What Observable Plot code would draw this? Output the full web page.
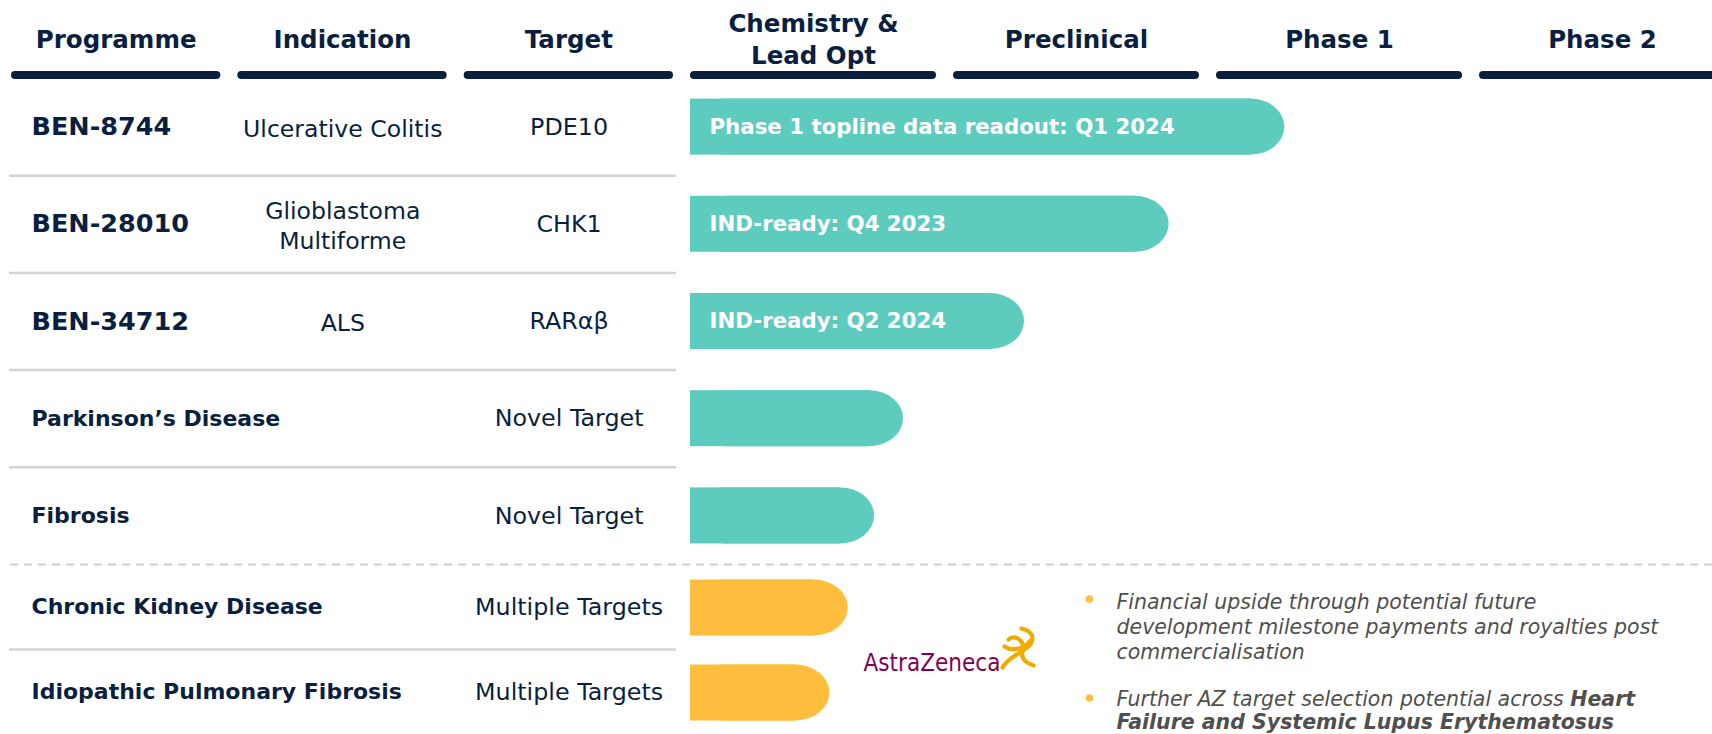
<!DOCTYPE html>
<html>
<head>
<meta charset="utf-8">
<script src="https://cdn.jsdelivr.net/npm/d3@7"></script>
<script src="https://cdn.jsdelivr.net/npm/@observablehq/plot@0.6"></script>
<style>
  html, body { margin: 0; padding: 0; background: #fff; overflow: hidden; }
  #chart svg { display: block; }
</style>
</head>
<body>
<div id="chart"></div>
<script>
// ---------------- data ----------------
const columns = ["Programme", "Indication", "Target", "Chemistry &\nLead Opt", "Preclinical", "Phase 1", "Phase 2"];
const programmes = ["BEN-8744", "BEN-28010", "BEN-34712", "Parkinson\u2019s Disease", "Fibrosis", "Chronic Kidney Disease", "Idiopathic Pulmonary Fibrosis"];
const indications = ["Ulcerative Colitis", "Glioblastoma\nMultiforme", "ALS", "", "", "", ""];
const targets = ["PDE10", "CHK1", "RAR\u03b1\u03b2", "Novel Target", "Novel Target", "Multiple Targets", "Multiple Targets"];
// progress measured in development stages from the start of Chemistry & Lead Opt
const progress = [2.26, 1.82, 1.27, 0.81, 0.70, 0.60, 0.53];
const milestones = ["Phase 1 topline data readout: Q1 2024", "IND-ready: Q4 2023", "IND-ready: Q2 2024", "", "", "", ""];
const owners = ["Benevolent", "Benevolent", "Benevolent", "Benevolent", "Benevolent", "AstraZeneca", "AstraZeneca"];
const ownerNames = ["Benevolent", "AstraZeneca"];
const partner = "AstraZeneca";
const notes = [
  "Financial upside through potential future\ndevelopment milestone payments and royalties post\ncommercialisation",
  "Further AZ target selection potential across Heart\nFailure and Systemic Lupus Erythematosus"
];
const noteHighlights = ["", "Heart Failure and Systemic Lupus Erythematosus"];

// ---------------- styles / layout ----------------
const NAVY = "#0a1f40";
const TEAL = "#5ecbbf";
const GOLD = "#febd3c";
const AZ_PLUM = "#830051";
const AZ_GOLD = "#f0ab00";
const FONT = "DejaVu Sans, Verdana, sans-serif";
const NOTE_POS = [{dx: 1116, dy: 590, lh: 1.24}, {dx: 1116, dy: 689, lh: 1.14}];
const BULLET_POS = [{dx: 1089, dy: 598.5}, {dx: 1089, dy: 697.5}];

const rows = programmes.map((p, i) => ({
  programme: p, indication: indications[i], target: targets[i],
  progress: progress[i], milestone: milestones[i], owner: owners[i], row: i
}));
const sameGroupNext = d => d.row < rows.length - 1 && rows[d.row + 1].owner === d.owner;
const groupBreak = d => d.row < rows.length - 1 && rows[d.row + 1].owner !== d.owner;

// AstraZeneca symbol (decorative)
const azSymbol = {
  draw(ctx) {
    ctx.moveTo(4, -20); ctx.bezierCurveTo(18, -17, 18, -6, 7, 1);
    ctx.bezierCurveTo(0, 6, -11, 11, -15, 19);
    ctx.moveTo(-9, -9); ctx.bezierCurveTo(-3, -15, 8, -8, 5, 3);
    ctx.bezierCurveTo(3, 12, 11, 15, 16, 17);
    ctx.moveTo(-13, -2); ctx.bezierCurveTo(-6, 3, 6, 1, 13, -8);
  }
};

const marks = [];

// header labels & bars
marks.push(Plot.text(columns, {
  x: (d, i) => i - 3 + 0.5, y: () => -0.5, dx: -8.5, dy: -1.5, text: d => d,
  fill: NAVY, fontWeight: 700, fontSize: 24.5, lineHeight: 1.3, textAnchor: "middle"
}));
marks.push(Plot.ruleY(columns, {
  x1: (d, i) => i - 3, x2: (d, i) => i - 2, y: () => 0, dy: -3.5,
  insetLeft: 4, insetRight: 21, stroke: NAVY, strokeWidth: 8, strokeLinecap: "round"
}));

// table separators
marks.push(Plot.ruleY(rows, {
  filter: sameGroupNext, y: d => d.row + 1, x1: () => -3, x2: () => 0,
  insetLeft: -2, insetRight: 14, stroke: "#d3d3d3", strokeWidth: 2.5
}));
marks.push(Plot.ruleY(rows, {
  filter: groupBreak, y: d => d.row + 1, insetLeft: 10,
  stroke: "#cdcdcd", strokeWidth: 2, strokeDasharray: "8,6"
}));

// table text
marks.push(Plot.text(rows, {
  filter: d => d.indication, x: () => -3, y: d => d.row + 0.5, dx: 20, text: "programme",
  textAnchor: "start", fill: NAVY, fontWeight: 700, fontSize: 25.5
}));
marks.push(Plot.text(rows, {
  filter: d => !d.indication, x: () => -3, y: d => d.row + 0.5, dx: 20, text: "programme",
  textAnchor: "start", fill: NAVY, fontWeight: 700, fontSize: 22
}));
marks.push(Plot.text(rows, {
  filter: d => d.indication, x: () => -1.5, y: d => d.row + 0.5, dx: -8.25, text: "indication",
  textAnchor: "middle", fill: NAVY, fontSize: 23.6, lineHeight: 1.3
}));
marks.push(Plot.text(rows, {
  x: () => -0.5, y: d => d.row + 0.5, dx: -8.25, text: "target",
  textAnchor: "middle", fill: NAVY, fontSize: 23.8
}));

// progress bars (rounded right end only)
for (const [own, insetTop, insetBottom] of [["Benevolent", 20.6, 20.6], ["AstraZeneca", 15.5, 13.5]]) {
  marks.push(Plot.rect(rows, {
    filter: d => d.owner === own, x1: () => 0, x2: "progress", y1: "row", y2: d => d.row + 1,
    fill: "owner", insetTop, insetBottom, rx: 34, ry: 28
  }));
  marks.push(Plot.rect(rows, {
    filter: d => d.owner === own, x1: () => 0, x2: "progress", y1: "row", y2: d => d.row + 1,
    fill: "owner", insetTop, insetBottom, insetRight: 34
  }));
}
marks.push(Plot.text(rows, {
  filter: d => d.milestone, x: () => 0, y: d => d.row + 0.5, dx: 19, text: "milestone",
  textAnchor: "start", fill: "white", fontWeight: 700, fontSize: 21.3
}));

// partner logo
marks.push(Plot.text([partner], {
  frameAnchor: "top-left", dx: 863, dy: 653, text: d => d,
  textAnchor: "start", fill: AZ_PLUM, fontSize: 24
}));
marks.push(Plot.dot([partner], {
  frameAnchor: "top-left", dx: 1017, dy: 648, symbol: azSymbol, r: 5,
  fill: "none", stroke: AZ_GOLD, strokeWidth: 4.2, strokeLinecap: "round"
}));

// notes
notes.forEach((n, k) => {
  marks.push(Plot.dot([n], {
    frameAnchor: "top-left", dx: BULLET_POS[k].dx, dy: BULLET_POS[k].dy,
    r: 3.8, fill: GOLD, stroke: "none"
  }));
  marks.push(Plot.text([n], {
    frameAnchor: "top-left", dx: NOTE_POS[k].dx, dy: NOTE_POS[k].dy, text: d => d,
    textAnchor: "start", lineAnchor: "top", fill: "#4f4f4f", fontStyle: "italic",
    fontSize: 20.5, lineHeight: NOTE_POS[k].lh
  }));
});

const svg = Plot.plot({
  width: 1712,
  height: 734,
  marginTop: 0, marginRight: 0, marginBottom: 0, marginLeft: 0,
  style: {fontFamily: FONT, background: "white", color: NAVY},
  x: {type: "linear", domain: [-3, 0, 4], range: [11, 690, 1742], axis: null},
  y: {type: "linear", domain: [-1, 0, 5, 7], range: [0, 78, 564, 734], axis: null},
  color: {domain: ownerNames, range: [TEAL, GOLD]},
  marks
});
document.getElementById("chart").appendChild(svg);

// condense the partner wordmark to the logo's width
const logo = Array.from(svg.querySelectorAll("text")).find(t => t.textContent === partner);
if (logo) { logo.setAttribute("textLength", "137"); logo.setAttribute("lengthAdjust", "spacingAndGlyphs"); }

// bold-italic emphasis inside the second note
function emphasize(note, phrase) {
  if (!phrase) return;
  const first = note.split("\n")[0];
  const el = Array.from(svg.querySelectorAll("text")).find(t => t.textContent.startsWith(first.slice(0, 20)));
  if (!el) return;
  const lines = note.split("\n");
  const tspans = Array.from(el.querySelectorAll("tspan"));
  const nodes = tspans.length ? tspans : [el];
  const start = lines.join(" ").indexOf(phrase);
  let offset = 0;
  nodes.forEach((node, k) => {
    const line = lines[k] || "";
    const s = start - offset;
    if (s <= 0) node.setAttribute("font-weight", "bold");
    else if (s < line.length) {
      node.textContent = line.slice(0, s);
      const b = document.createElementNS("http://www.w3.org/2000/svg", "tspan");
      b.setAttribute("font-weight", "bold");
      b.textContent = line.slice(s);
      node.appendChild(b);
    }
    offset += line.length + 1;
  });
}
notes.forEach((n, k) => emphasize(n, noteHighlights[k]));
</script>
</body>
</html>
